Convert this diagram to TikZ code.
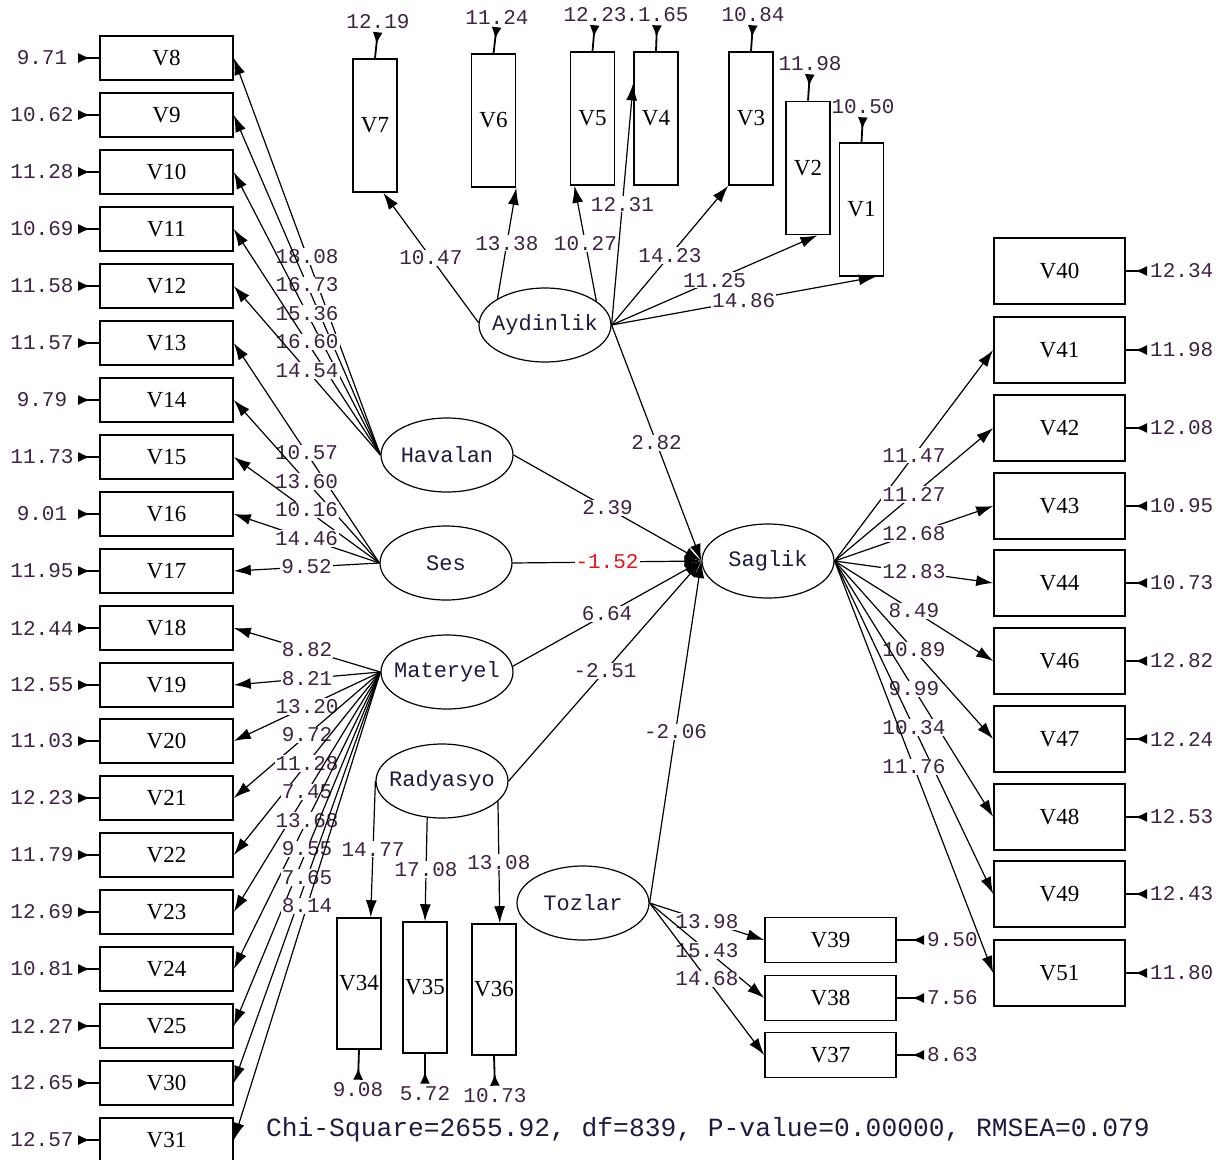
\documentclass[tikz,border=0pt]{standalone}
\usepackage{fontspec}
\setmainfont{Liberation Serif}
\setmonofont{Liberation Mono}
\usetikzlibrary{arrows.meta,shapes.geometric}
\definecolor{numc}{RGB}{62,34,66}
\definecolor{latc}{RGB}{28,28,64}
\definecolor{redc}{RGB}{235,20,20}
\begin{document}
\begin{tikzpicture}[x=1pt,y=-1pt,
  obsfont/.style={font=\fontsize{23}{23}\selectfont},
  hbox/.style={draw,line width=1.6pt,minimum width=133pt,minimum height=44pt,inner sep=0pt,obsfont},
  rbox/.style={draw,line width=1.6pt,minimum width=131pt,minimum height=66pt,inner sep=0pt,obsfont},
  tbox/.style={draw,line width=1.6pt,minimum width=131pt,minimum height=45pt,inner sep=0pt,obsfont},
  vbox/.style={draw,line width=1.6pt,minimum width=44pt,minimum height=133pt,inner sep=0pt,obsfont},
  bbox/.style={draw,line width=1.6pt,minimum width=44pt,minimum height=131pt,inner sep=0pt,obsfont},
  lat/.style={draw,ellipse,line width=1.2pt,minimum width=132pt,minimum height=74pt,inner sep=0pt,
     font=\ttfamily\fontsize{22}{22}\selectfont,text=latc},
  num/.style={font=\ttfamily\fontsize{21}{21}\selectfont,text=numc,inner sep=1pt},
  enum/.style={num,minimum width=66pt,inner sep=0pt},
  lbl/.style={num,fill=white,midway},
  pth/.style={line width=1.2pt,-{Latex[length=17pt,width=11pt]}},
  errarr/.style={line width=1.8pt,{Latex[length=12pt,width=10pt,reversed]}-,shorten <=3pt}
]
\useasboundingbox (0,0) rectangle (1227,1160);

% ---------- latent variables ----------
\node[lat] (Ayd) at (545,325) {\makebox[0pt]{Aydinlik}};
\node[lat] (Hav) at (447,455) {\makebox[0pt]{Havalan}};
\node[lat] (Ses) at (446,563) {\makebox[0pt]{Ses}};
\node[lat] (Mat) at (447,672) {\makebox[0pt]{Materyel}};
\node[lat] (Rad) at (442,781) {\makebox[0pt]{Radyasyo}};
\node[lat] (Toz) at (583,903) {\makebox[0pt]{Tozlar}};
\node[lat] (Sag) at (768,561) {\makebox[0pt]{Saglik}};

% ---------- left column ----------
\foreach \n/\y/\e in {8/58/9.71, 9/115/10.62, 10/172/11.28, 11/229/10.69, 12/286/11.58,
  13/343/11.57, 14/400/9.79, 15/457/11.73, 16/514/9.01, 17/571/11.95,
  18/628/12.44, 19/685/12.55, 20/741/11.03, 21/798/12.23, 22/855/11.79,
  23/912/12.69, 24/969/10.81, 25/1026/12.27, 30/1083/12.65, 31/1140/12.57}{
  \node[hbox] (V\n) at (166.5,\y) {V\n};
  \node[enum] (eV\n) at (42,\y) {\e};
  \draw[errarr] (eV\n.east) -- (V\n.west);
}

% ---------- right column ----------
\foreach \n/\y/\e in {40/271/12.34, 41/350/11.98, 42/428/12.08, 43/506/10.95, 44/583/10.73,
  46/661/12.82, 47/739/12.24, 48/817/12.53, 49/894/12.43, 51/973/11.80}{
  \node[rbox] (V\n) at (1059.5,\y) {V\n};
  \node[num,anchor=west,inner sep=0pt] (eV\n) at (1150,\y) {\e};
  \draw[errarr] (eV\n.west) -- (V\n.east);
}

% ---------- Tozlar indicators ----------
\foreach \n/\y/\e in {39/940/9.50, 38/998/7.56, 37/1055/8.63}{
  \node[tbox] (V\n) at (830.5,\y) {V\n};
  \node[num,anchor=west,inner sep=0pt] (eV\n) at (927,\y) {\e};
  \draw[errarr] (eV\n.west) -- (V\n.east);
}

% ---------- top indicators ----------
\foreach \n/\x/\y/\ex/\ey/\e in {7/375/125.5/378/22/12.19, 6/493.5/120.5/497/17/11.24,
  5/592.5/118.5/595/15/12.23, 4/656/118.5/657/15/.1.65, 3/751/118.5/753/15/10.84,
  2/808/168/810/64/11.98, 1/861.5/209.5/863/107/10.50}{
  \node[vbox] (V\n) at (\x,\y) {V\n};
  \node[num,inner sep=0pt] (eV\n) at (\ex,\ey) {\e};
  \draw[errarr] (eV\n.south) -- (V\n.north);
}

% ---------- bottom indicators ----------
\foreach \n/\x/\y/\ex/\ey/\e in {34/359/983.5/358/1090/9.08, 35/425/987.5/425/1094/5.72,
  36/494/989.5/495/1096/10.73}{
  \node[bbox] (V\n) at (\x,\y) {V\n};
  \node[num,inner sep=0pt] (eV\n) at (\ex,\ey) {\e};
  \draw[errarr] (eV\n.north) -- (V\n.south);
}

% ---------- loadings: Havalan ----------
\draw[pth] (Hav.west) -- node[lbl]{18.08} (V8.east);
\draw[pth] (Hav.west) -- node[lbl]{16.73} (V9.east);
\draw[pth] (Hav.west) -- node[lbl]{15.36} (V10.east);
\draw[pth] (Hav.west) -- node[lbl]{16.60} (V11.east);
\draw[pth] (Hav.west) -- node[lbl]{14.54} (V12.east);
% ---------- Ses ----------
\draw[pth] (Ses.west) -- node[lbl]{10.57} (V13.east);
\draw[pth] (Ses.west) -- node[lbl]{13.60} (V14.east);
\draw[pth] (Ses.west) -- node[lbl]{10.16} (V15.east);
\draw[pth] (Ses.west) -- node[lbl]{14.46} (V16.east);
\draw[pth] (Ses.west) -- node[lbl]{9.52} (V17.east);
% ---------- Materyel ----------
\draw[pth] (Mat.west) -- node[lbl]{8.82} (V18.east);
\draw[pth] (Mat.west) -- node[lbl]{8.21} (V19.east);
\draw[pth] (Mat.west) -- node[lbl]{13.20} (V20.east);
\draw[pth] (Mat.west) -- node[lbl]{9.72} (V21.east);
\draw[pth] (Mat.west) -- node[lbl]{11.28} (V22.east);
\draw[pth] (Mat.west) -- node[lbl]{7.45} (V23.east);
\draw[pth] (Mat.west) -- node[lbl]{13.68} (V24.east);
\draw[pth] (Mat.west) -- node[lbl]{9.55} (V25.east);
\draw[pth] (Mat.west) -- node[lbl]{7.65} (V30.east);
\draw[pth] (Mat.west) -- node[lbl]{8.14} (V31.east);
% ---------- Aydinlik ----------
\draw[pth] (Ayd.178) -- node[lbl]{10.47} (V7.-83);
\draw[pth] (Ayd.151) -- node[lbl]{13.38} (V6.south east);
\draw[pth] (Ayd.25) -- node[lbl]{10.27} (V5.-105);
\draw[pth] (Ayd.east) -- node[lbl]{12.31} (V4.123);
\draw[pth] (Ayd.east) -- node[lbl]{14.23} (V3.south west);
\draw[pth] (Ayd.east) -- node[lbl]{11.25} (V2.-82);
\draw[pth] (Ayd.east) -- node[lbl]{14.86} (V1.-78);
% ---------- Radyasyo ----------
\draw[pth] (Rad.180) -- node[lbl]{14.77} (V34.80);
\draw[pth] (Rad.-112) -- node[lbl]{17.08} (V35.north);
\draw[pth] (Rad.-20) -- node[lbl]{13.08} (V36.85);
% ---------- Tozlar ----------
\draw[pth] (Toz.east) -- node[lbl]{13.98} (V39.west);
\draw[pth] (Toz.east) -- node[lbl]{15.43} (V38.west);
\draw[pth] (Toz.east) -- node[lbl]{14.68} (V37.west);
% ---------- Saglik ----------
\draw[pth] (Sag.east) -- node[lbl]{11.47} (V41.west);
\draw[pth] (Sag.east) -- node[lbl]{11.27} (V42.west);
\draw[pth] (Sag.east) -- node[lbl]{12.68} (V43.west);
\draw[pth] (Sag.east) -- node[lbl]{12.83} (V44.west);
\draw[pth] (Sag.east) -- node[lbl]{8.49} (V46.west);
\draw[pth] (Sag.east) -- node[lbl]{10.89} (V47.west);
\draw[pth] (Sag.east) -- node[lbl]{9.99} (V48.west);
\draw[pth] (Sag.east) -- node[lbl]{10.34} (V49.west);
\draw[pth] (Sag.east) -- node[lbl]{11.76} (V51.west);
% ---------- structural paths ----------
\draw[pth] (Ayd.east) -- node[lbl]{2.82} (Sag.west);
\draw[pth] (Hav.east) -- node[lbl]{2.39} (Sag.west);
\draw[pth] (Ses.east) -- node[lbl,text=redc]{-1.52} (Sag.west);
\draw[pth] (Mat.5) -- node[lbl]{6.64} (Sag.west);
\draw[pth] (Rad.east) -- node[lbl]{-2.51} (Sag.west);
\draw[pth] (Toz.east) -- node[lbl]{-2.06} (Sag.west);

% ---------- fit statistics ----------
\node[font=\ttfamily\fontsize{26.3}{26.3}\selectfont,text=latc,inner sep=0pt] (fit) at (708,1130)
  {Chi-Square=2655.92, df=839, P-value=0.00000, RMSEA=0.079};
\end{tikzpicture}
\end{document}
